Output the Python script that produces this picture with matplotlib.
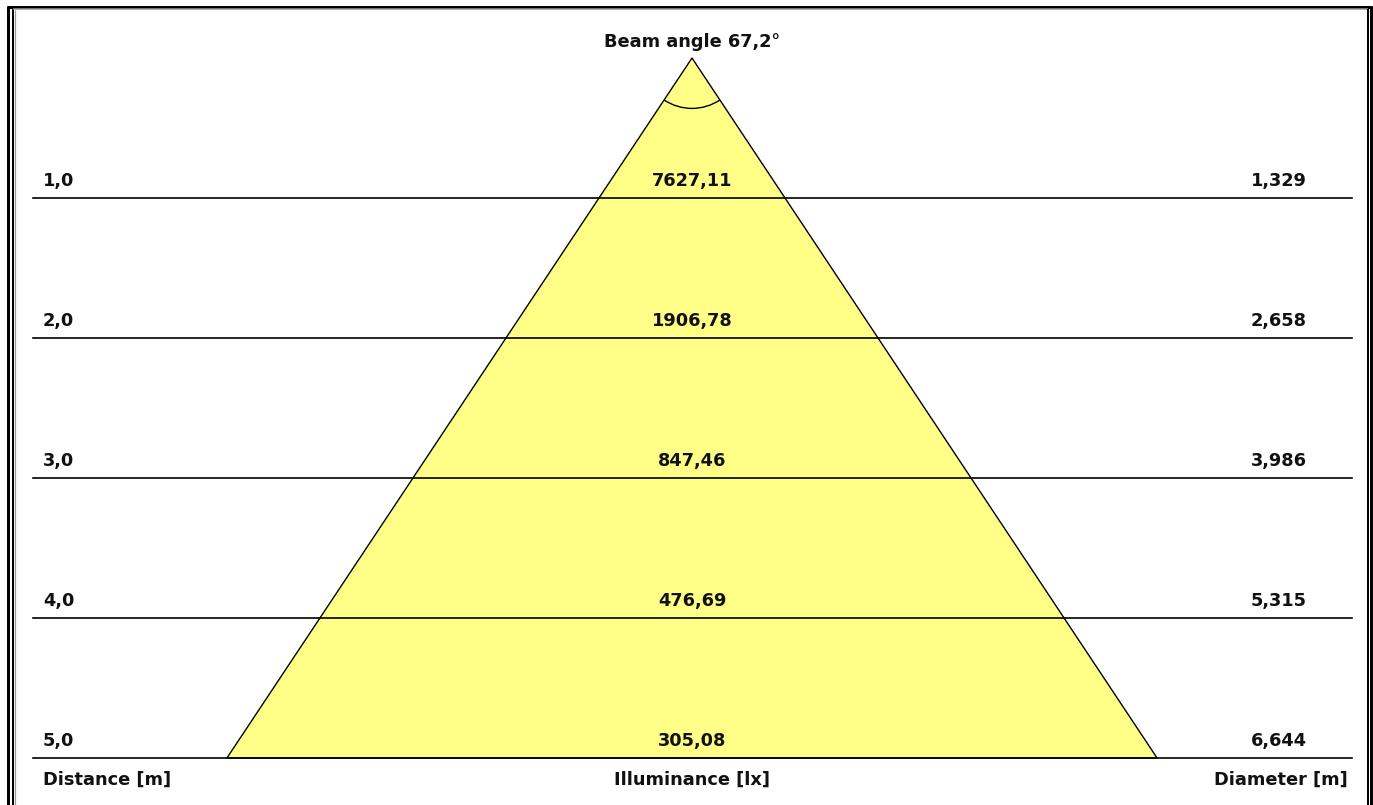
import matplotlib
matplotlib.use("Agg")
import matplotlib.pyplot as plt
from matplotlib.patches import Polygon, Arc
from matplotlib.lines import Line2D

distances = [1.0, 2.0, 3.0, 4.0, 5.0]
distance_labels = ["1,0", "2,0", "3,0", "4,0", "5,0"]
illuminance_labels = ["7627,11", "1906,78", "847,46", "476,69", "305,08"]
diameters = [1.329, 2.658, 3.986, 5.315, 6.644]
diameter_labels = ["1,329", "2,658", "3,986", "5,315", "6,644"]
beam_angle = 67.2
title = "Beam angle 67,2°"
bottom_labels = ["Distance [m]", "Illuminance [lx]", "Diameter [m]"]

W, H = 1373, 805
fig = plt.figure(figsize=(W / 100, H / 100), dpi=100)
ax = fig.add_axes([0, 0, 1, 1])
ppm = 140.0
cx, cy = 692, 58
ax.set_xlim(-cx / ppm, (W - cx) / ppm)
ax.set_ylim((H - cy) / ppm, -cy / ppm)
ax.axis("off")

font = dict(family=["DejaVu Sans"], fontweight="bold",
            fontsize=12.8, color="#111111")

# beam triangle
half = diameters[-1] / 2
dmax = distances[-1]
tri = Polygon([(0, 0), (-half, dmax), (half, dmax)], closed=True,
              facecolor="#FFFF88", edgecolor="black", lw=1.0, zorder=1)
ax.add_patch(tri)

# angle arc (y axis inverted, so angles between 0..180 lie below the apex)
r = 0.36
arc = Arc((0, 0), 2 * r, 2 * r, angle=0,
          theta1=90 - beam_angle / 2, theta2=90 + beam_angle / 2,
          color="black", lw=1.0, zorder=3)
ax.add_patch(arc)

xl, xr = (33 - cx) / ppm, (1352 - cx) / ppm
off = 12 / ppm
for d, dl, il, dml in zip(distances, distance_labels, illuminance_labels, diameter_labels):
    ax.plot([xl, xr], [d, d], color="black", lw=1.2, zorder=2)
    ax.text((43 - cx) / ppm, d - off, dl, ha="left", va="baseline", **font)
    ax.text(0, d - off, il, ha="center", va="baseline", **font)
    ax.text((1307 - cx) / ppm, d - off, dml, ha="right", va="baseline", **font)

yb = dmax + 27 / ppm
ax.text((43 - cx) / ppm, yb, bottom_labels[0], ha="left", va="baseline", **font)
ax.text(0, yb, bottom_labels[1], ha="center", va="baseline", **font)
ax.text((1348 - cx) / ppm, yb, bottom_labels[2], ha="right", va="baseline", **font)
ax.text(0, -11 / ppm, title, ha="center", va="baseline", **font)

# frame decorations in pixel coords
def fline(xs, ys, color, lw):
    fig.add_artist(Line2D([x / W for x in xs], [1 - y / H for y in ys],
                          color=color, lw=lw, transform=fig.transFigure,
                          solid_capstyle="butt"))

lwpx = 0.72
fline([8, 8], [H, 6], "black", 3.0 * lwpx)
fline([6.5, 1372], [7, 7], "black", 3.0 * lwpx)
fline([1371, 1371], [6, H], "black", 3.0 * lwpx)
fline([13, 13], [H, 9], "black", 2.0 * lwpx)
fline([14.5, 14.5], [H, 10], "#999999", 1.2 * lwpx)
fline([13, 1368], [9.5, 9.5], "#999999", 1.5 * lwpx)
fline([1368, 1368], [9, H], "black", 2.0 * lwpx)

fig.savefig("out.png", dpi=100, facecolor="white")
